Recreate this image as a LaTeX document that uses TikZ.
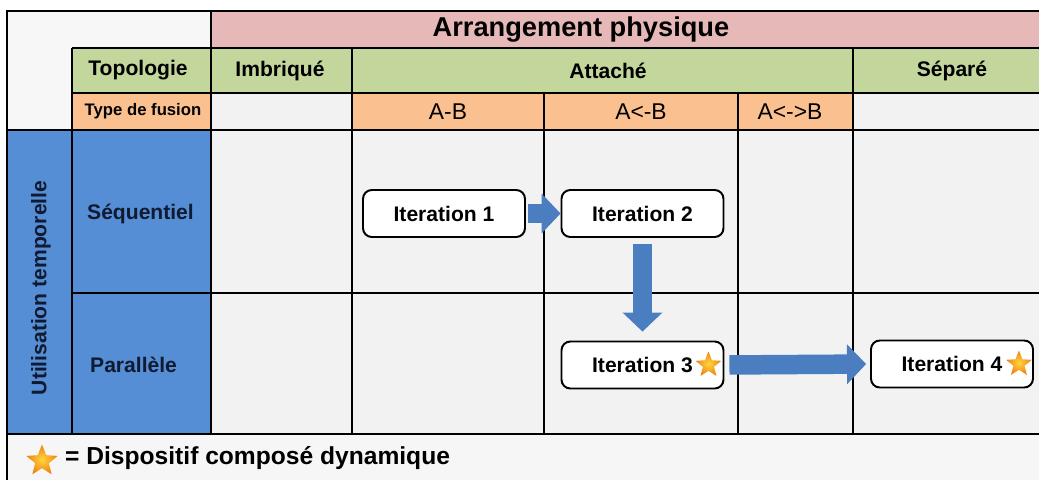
\documentclass[tikz,border=0pt]{standalone}
\usepackage{fontspec}
\setmainfont{Liberation Sans}
\usepackage{xcolor}
\usetikzlibrary{arrows.meta,shapes.geometric,positioning}

\definecolor{hdpink}{RGB}{230,185,184}
\definecolor{hdgreen}{RGB}{195,214,155}
\definecolor{hdorange}{RGB}{250,192,144}
\definecolor{rowblue}{RGB}{85,142,213}
\definecolor{cellgray}{RGB}{242,242,242}
\definecolor{flowblue}{RGB}{74,126,193}
\definecolor{navytext}{RGB}{16,26,48}
\definecolor{starin}{RGB}{255,214,60}
\definecolor{starout}{RGB}{240,128,20}

\begin{document}
\begin{tikzpicture}[x=0.02cm, y=-0.02cm,
  gridline/.style={line width=1.1pt},
  hdtext/.style={font=\fontsize{12}{14}\selectfont\bfseries},
  fusiontext/.style={font=\fontsize{13}{15}\selectfont},
  iterbox/.style={draw, line width=1.1pt, rounded corners=5pt, fill=white,
                  minimum width=3.24cm, minimum height=0.94cm, inner sep=0pt,
                  font=\fontsize{12}{14}\selectfont\bfseries},
  flow/.style={draw=flowblue, line width=0.39cm,
               -{Triangle[width=0.8cm, length=0.38cm, line width=0pt, fill=flowblue]}},
  starmark/.style={star, star points=5, star point ratio=2.3, inner sep=0pt,
                   minimum size=0.54cm, inner color=starin, outer color=starout},
]
  \useasboundingbox (0,0) rectangle (1039,480);
  \clip (0,0) rectangle (1039,480);

  % Fills
  \fill[white!97!black] (7,11) rectangle (211,130);
  \fill[hdpink] (211,11) rectangle (1050,48);
  \fill[hdgreen] (72,48) rectangle (1050,93);
  \fill[hdorange] (72,93) rectangle (853,130);
  \fill[cellgray] (211,93) rectangle (352,130);
  \fill[cellgray] (853,93) rectangle (1050,130);
  \fill[rowblue] (7,130) rectangle (211,434);
  \fill[cellgray] (211,130) rectangle (1050,434);
  \fill[cellgray!70!white] (7,434) rectangle (1050,490);

  % Grid
  \draw[gridline] (72,48) -- (1050,48);
  \draw[gridline] (72,93) -- (1050,93);
  \draw[gridline] (7,130) -- (1050,130);
  \draw[gridline] (72,293) -- (1050,293);
  \draw[gridline] (7,434) -- (1050,434);
  \draw[gridline] (72,48) -- (72,434);
  \draw[gridline] (211,11) -- (211,434);
  \draw[gridline] (352,48) -- (352,434);
  \draw[gridline] (544,93) -- (544,434);
  \draw[gridline] (738,93) -- (738,434);
  \draw[gridline] (853,48) -- (853,434);
  \draw[line width=1.6pt] (7,11) rectangle (1050,495);

  % Column headers
  \node[font=\fontsize{15.5}{18}\selectfont\bfseries] (arrangement) at (581,29.5) {Arrangement physique};
  \node[hdtext] (topologie) at (138,70.5) {Topologie};
  \node[hdtext] (imbrique) at (280,70.5) {Imbriqué};
  \node[hdtext] (attache) at (608,70.5) {Attaché};
  \node[hdtext] (separe) at (952,70.5) {Séparé};
  \node[font=\fontsize{9.5}{11}\selectfont\bfseries] (fusion) at (143,111) {Type de fusion};
  \node[fusiontext] (ab) at (448,111.5) {A-B};
  \node[fusiontext] (ba) at (641,111.5) {A<-B};
  \node[fusiontext] (abba) at (790,111.5) {A<->B};

  % Row headers
  \node[hdtext, text=navytext, rotate=90] (utilisation) at (41,288) {Utilisation temporelle};
  \node[hdtext, text=navytext, anchor=west] (sequentiel) at (81,214) {Séquentiel};
  \node[hdtext, text=navytext, anchor=west] (parallele) at (84,365) {Parallèle};

  % Iterations
  \node[iterbox] (it1) at (444,213.5) {Iteration 1};
  \node[iterbox] (it2) at (642.5,213.5) {Iteration 2};
  \node[iterbox] (it3) at (642.5,365) {Iteration 3\hspace{6pt}};
  \node[iterbox] (it4) at (952,364) {Iteration 4\hspace{6pt}};
  \node[starmark] (star3) at ([xshift=-0.32cm]it3.east) {};
  \node[starmark] (star4) at ([xshift=-0.3cm]it4.east) {};

  % Arrows
  \draw[flow, shorten <=0.04cm] (it1) -- (it2);
  \draw[flow, shorten <=0.12cm, shorten >=0.18cm] (it2) -- (it3);
  \draw[flow, shorten <=0.1cm, shorten >=0.08cm] (it3.east) -- (it4.west);

  % Legend
  \node[starmark, minimum size=0.66cm] (legendstar) at (42,461) {};
  \node[font=\fontsize{14}{16}\selectfont\bfseries, anchor=west] (legend) at (59,458)
    {= Dispositif composé dynamique};
\end{tikzpicture}
\end{document}
